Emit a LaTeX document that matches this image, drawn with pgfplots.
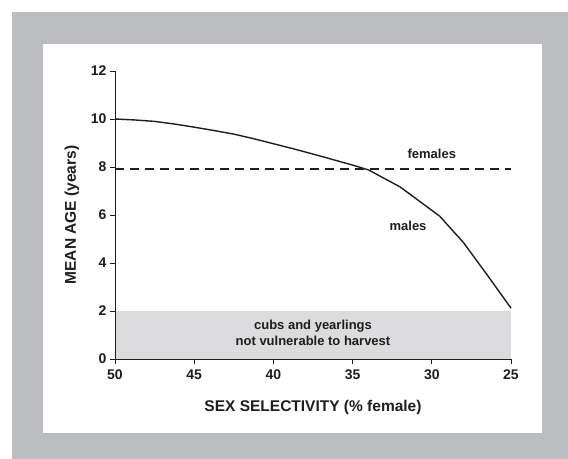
\documentclass[border=0pt]{standalone}
\usepackage{pgfplots}
\pgfplotsset{compat=1.18}
\usepackage{fontspec}
\setmainfont{Liberation Sans}
\definecolor{framegray}{HTML}{BCBDC1}
\definecolor{shade}{HTML}{DCDCDE}
\definecolor{ink}{HTML}{1E1E1E}
\begin{document}
\begin{tikzpicture}
\fill[white] (-115bp,-100bp) rectangle (453bp,359bp);
\fill[framegray] (-103.3bp,-100bp) rectangle (453bp,346.7bp);
\fill[white] (-72bp,-74.3bp) rectangle (427bp,314.7bp);
\begin{axis}[at={(0,0)}, anchor=south west, scale only axis,
  width=396bp, height=288bp,
  xmin=25, xmax=50, ymin=0, ymax=12, x dir=reverse,
  axis x line=bottom, axis y line=left,
  axis line style={ink, line width=0.8pt, -},
  xtick={25,30,...,50}, ytick={0,2,...,12},
  tick align=outside, major tick length=5bp,
  tick style={ink, line width=0.8pt},
  ticklabel style={font=\fontsize{14bp}{16bp}\selectfont\bfseries, text=ink},
  xticklabel style={yshift=-2bp},
  /pgf/number format/assume math mode=true,
  xlabel={SEX SELECTIVITY (\% female)},
  ylabel={MEAN AGE (years)},
  xlabel style={font=\fontsize{15.5bp}{18bp}\selectfont\bfseries, text=ink,
    at={(axis description cs:0.5,-0.168)}, anchor=center},
  ylabel style={font=\fontsize{15.5bp}{18bp}\selectfont\bfseries, text=ink,
    at={(axis description cs:-0.1086,0.5)}, anchor=center},
  clip=false, axis on top,
]
\addplot[draw=none, fill=shade] coordinates {(50,0) (50,2) (25,2) (25,0)} -- cycle;
\addplot[ink, line width=2pt, dash pattern=on 9bp off 6bp] coordinates {(50,7.9) (25,7.9)};
\addplot[ink, line width=1.4pt] coordinates {
(50,10.0) (48.75,9.96) (47.5,9.9) (46.25,9.79) (45,9.66) (43.75,9.52) (42.5,9.37)
(41.25,9.18) (40,8.97) (38.75,8.76) (37.5,8.54) (36.25,8.31)
(35,8.08) (34,7.88) (32,7.17) (29.5,5.95) (28,4.85) (26.5,3.5) (25,2.12)};
\node[font=\fontsize{13bp}{15bp}\selectfont\bfseries, text=ink] at (axis cs:30,8.54) {females};
\node[font=\fontsize{13bp}{15bp}\selectfont\bfseries, text=ink] at (axis cs:31.5,5.54) {males};
\node[font=\fontsize{13bp}{16bp}\selectfont\bfseries, text=ink, align=center] at (axis cs:37.5,1.08) {cubs and yearlings\\not vulnerable to harvest};
\end{axis}
\end{tikzpicture}
\end{document}
